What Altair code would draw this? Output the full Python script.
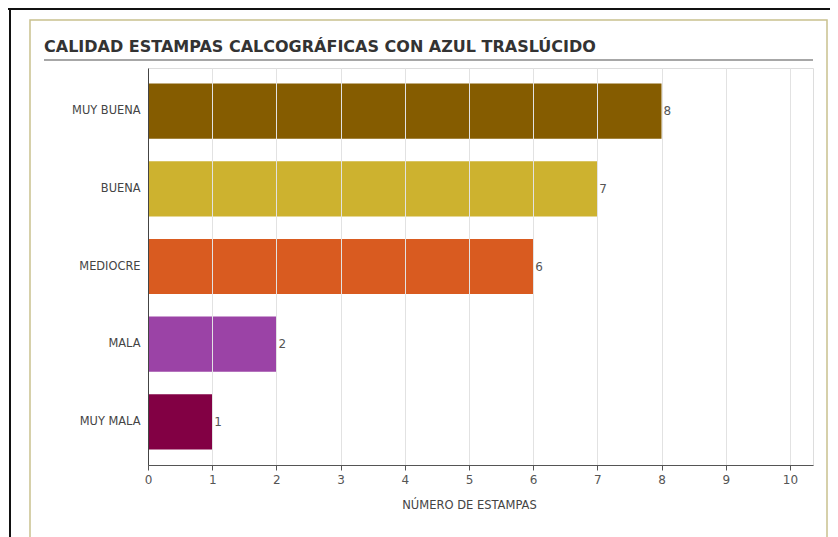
import altair as alt
import pandas as pd

categories = ["MUY BUENA", "BUENA", "MEDIOCRE", "MALA", "MUY MALA"]
values = [8, 7, 6, 2, 1]
colors = ["#855C00", "#CDB22F", "#D95B20", "#9B43A6", "#820044"]
tick_values = [0, 1, 2, 3, 4, 5, 6, 7, 8, 9, 10]

title_text = "CALIDAD ESTAMPAS CALCOGRÁFICAS CON AZUL TRASLÚCIDO"
x_title = "NÚMERO DE ESTAMPAS"

df = pd.DataFrame({"calidad": categories, "n": values})

FONT = "DejaVu Sans"

x_enc = alt.X(
    "n:Q",
    scale=alt.Scale(domain=[0, 10.36], nice=False, zero=True),
    axis=alt.Axis(
        values=tick_values,
        format="d",
        title=x_title,
        titleX=321,
        titleY=40,
        titleBaseline="middle",
        titleFontWeight="normal",
        titleFontSize=11.5,
        titleColor="#444444",
        titleFont=FONT,
        labelFont=FONT,
        labelFontSize=12,
        labelColor="#555555",
        labelPadding=4,
        labelFlush=False,
        tickSize=5,
        tickColor="#555555",
        domainColor="#555555",
        gridColor="#e2e2e2",
        zindex=1,
    ),
)
y_enc = alt.Y(
    "calidad:N",
    sort=categories,
    scale=alt.Scale(paddingInner=0.29, paddingOuter=0.2),
    axis=alt.Axis(
        title=None,
        ticks=False,
        labelFont=FONT,
        labelFontSize=11.4,
        labelColor="#444444",
        labelPadding=8,
        domainColor="#444444",
        grid=False,
        zindex=2,
    ),
)

bars = alt.Chart(df).mark_bar().encode(
    x=x_enc,
    y=y_enc,
    color=alt.Color("calidad:N", scale=alt.Scale(domain=categories, range=colors), legend=None),
)

labels = alt.Chart(df).mark_text(
    align="left", baseline="middle", dx=2, font=FONT, fontSize=12, color="#555555"
).encode(
    x="n:Q",
    y=alt.Y("calidad:N", sort=categories),
    text="n:Q",
)

frame_data = alt.Data(values=[{}])
# decorative frame lines (page border, panel border, title underline)
black_top = alt.Chart(frame_data).mark_rule(color="#111111", strokeWidth=2).encode(
    x=alt.value(-140), x2=alt.value(700), y=alt.value(-59)
)
black_left = alt.Chart(frame_data).mark_rule(color="#111111", strokeWidth=2).encode(
    x=alt.value(-138), y=alt.value(-60), y2=alt.value(500)
)
olive_box = alt.Chart(frame_data).mark_rect(
    fill="transparent", stroke="#c9c18f", strokeWidth=1.5
).encode(
    x=alt.value(-118), x2=alt.value(679), y=alt.value(-48), y2=alt.value(500)
)
underline = alt.Chart(frame_data).mark_rule(color="#8a8a8a", strokeWidth=1.5).encode(
    x=alt.value(-104), x2=alt.value(665), y=alt.value(-8)
)
title = alt.Chart(frame_data).mark_text(
    align="left", baseline="alphabetic", font=FONT, fontSize=16, fontWeight="bold", color="#333333"
).encode(
    x=alt.value(-104), y=alt.value(-16), text=alt.value(title_text)
)

chart = (
    alt.layer(black_top, black_left, olive_box, underline, title, bars, labels)
    .properties(
        width=665,
        height=397,
        padding={"left": 140, "top": 60, "right": 17, "bottom": 72},
        autosize=alt.AutoSizeParams(type="none"),
    )
    .configure_view(strokeWidth=0)
    .configure(background="white")
)

chart.save("out.html", embed_options={"renderer": "svg", "actions": False})
